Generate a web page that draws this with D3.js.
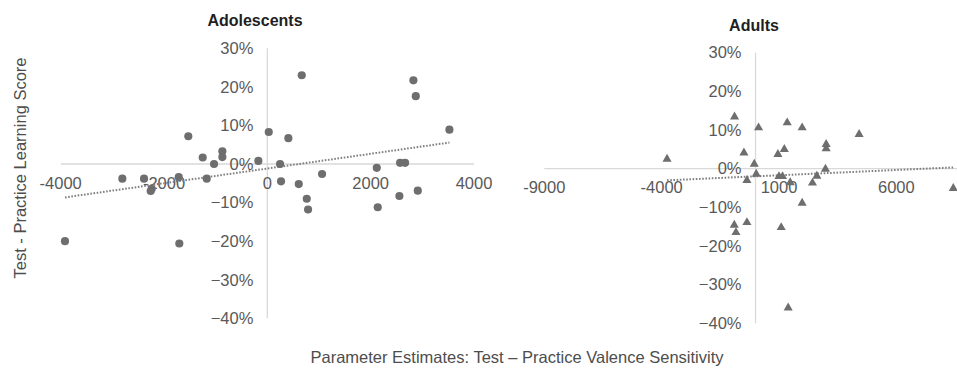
<!DOCTYPE html>
<html>
<head>
<meta charset="utf-8">
<script src="https://cdn.jsdelivr.net/npm/d3@7"></script>
<style>
  body { margin: 0; background: #fff; }
  svg { font-family: "Liberation Sans", Arial, sans-serif; display: block; }
</style>
</head>
<body>
<svg id="chart" width="957" height="369"></svg>
<script>
// Adolescents: valence sensitivity difference vs learning score difference
const adolX = [666, 2827, 2873, 3524, -1530, 27, 407, -1251, -871, -871, -1032, -174, 246, 2118, 2569, 2666,
  1059, 265, 608, 2912, -2807, -2387, -1715, -1173, -2238, -2258, 763, 788, 2137, 2556, -3917, -1704];
const adolY = [0.230, 0.217, 0.176, 0.089, 0.072, 0.083, 0.067, 0.017, 0.033, 0.018, 0.000, 0.008, 0.000, -0.010, 0.003, 0.003,
  -0.026, -0.045, -0.052, -0.069, -0.038, -0.038, -0.034, -0.038, -0.064, -0.070, -0.090, -0.118, -0.112, -0.083, -0.200, -0.206];

// Adults
const adultX = [-894, 128, 1349, 1987, 4413, -3770, -494, 953, 1226, 3009, 3009, -55, 30, 2979, 2613, -366,
  1000, 1150, 1477, 2426, 8426, 1987, -906, -366, -834, 1094, 1391];
const adultY = [0.134, 0.106, 0.119, 0.106, 0.089, 0.025, 0.041, 0.037, 0.050, 0.063, 0.052, 0.012, -0.014, -0.001, -0.019, -0.030,
  -0.020, -0.020, -0.036, -0.037, -0.051, -0.089, -0.146, -0.139, -0.165, -0.152, -0.360];

const yTicks = [0.3, 0.2, 0.1, 0, -0.1, -0.2, -0.3, -0.4];
const adolXTicks = [-4000, -2000, 0, 2000, 4000];
const adultXTicks = [-9000, -4000, 1000, 6000];

const svg = d3.select("#chart");
const axisColor = "#d9d9d9";
const labelColor = "#595959";
const markColor = "#6e6e6e";

function fit(xs, ys) {
  const mx = d3.mean(xs), my = d3.mean(ys);
  const sxy = d3.sum(xs, (v, i) => (v - mx) * (ys[i] - my));
  const sxx = d3.sum(xs, v => (v - mx) * (v - mx));
  const b = sxy / sxx;
  return { b: b, a: my - b * mx };
}

function panel(opts) {
  const x = d3.scaleLinear().domain(opts.xDomain).range(opts.xRange);
  const y = d3.scaleLinear().domain([-0.4, 0.3]).range(opts.yRange);
  const g = svg.append("g");

  // axis lines through zero
  g.append("line")
    .attr("x1", opts.xRange[0]).attr("x2", opts.xRange[1])
    .attr("y1", y(0)).attr("y2", y(0))
    .attr("stroke", axisColor).attr("stroke-width", 1.3);
  g.append("line")
    .attr("x1", x(0)).attr("x2", x(0))
    .attr("y1", y(0.3)).attr("y2", y(-0.4))
    .attr("stroke", axisColor).attr("stroke-width", 1.3);

  g.selectAll("text.ytick")
    .data(yTicks)
    .enter()
    .append("text")
    .attr("class", "ytick")
    .attr("x", x(0) - 14)
    .attr("y", d => y(d))
    .attr("dy", "0.35em")
    .attr("text-anchor", "end")
    .attr("font-size", 16.5)
    .attr("fill", labelColor)
    .text(d3.format(".0%"));

  g.selectAll("text.xtick")
    .data(opts.xTicks)
    .enter()
    .append("text")
    .attr("class", "xtick")
    .attr("x", d => x(d))
    .attr("y", y(0) + 19)
    .attr("dy", "0.35em")
    .attr("text-anchor", "middle")
    .attr("font-size", 16.5)
    .attr("fill", labelColor)
    .text(d => d);

  // linear trendline over the data range
  const t = fit(opts.xs, opts.ys);
  const ext = d3.extent(opts.xs);
  g.append("line")
    .attr("x1", x(ext[0])).attr("y1", y(t.a + t.b * ext[0]))
    .attr("x2", x(ext[1])).attr("y2", y(t.a + t.b * ext[1]))
    .attr("stroke", "#7f7f7f")
    .attr("stroke-width", 2)
    .attr("stroke-dasharray", "1.6,1.6");

  const pts = opts.xs.map((v, i) => ({ x: v, y: opts.ys[i] }));
  const sym = d3.symbol().type(opts.symbol).size(opts.size);
  g.selectAll("path.pt")
    .data(pts)
    .enter()
    .append("path")
    .attr("class", "pt")
    .attr("d", sym)
    .attr("transform", d => "translate(" + x(d.x) + "," + y(d.y) + ")")
    .attr("fill", markColor);

  g.append("text")
    .attr("x", opts.titleX)
    .attr("y", opts.titleY)
    .attr("text-anchor", "middle")
    .attr("font-size", 16)
    .attr("font-weight", "bold")
    .attr("fill", "#1f1f1f")
    .text(opts.title);
}

panel({
  title: "Adolescents", titleX: 255, titleY: 26,
  xDomain: [-4000, 4000], xRange: [60.7, 474],
  yRange: [318.3, 48.3],
  xTicks: adolXTicks, xs: adolX, ys: adolY,
  symbol: d3.symbolCircle, size: 52
});

panel({
  title: "Adults", titleX: 754, titleY: 31,
  xDomain: [-9000, 11000], xRange: [544.3, 1013.7],
  yRange: [323.3, 52.7],
  xTicks: adultXTicks, xs: adultX, ys: adultY,
  symbol: d3.symbolTriangle, size: 36
});

svg.append("text")
  .attr("transform", "translate(26,168) rotate(-90)")
  .attr("text-anchor", "middle")
  .attr("font-size", 16.5)
  .attr("fill", "#4d4d4d")
  .text("Test - Practice Learning Score");

svg.append("text")
  .attr("x", 517)
  .attr("y", 363)
  .attr("text-anchor", "middle")
  .attr("font-size", 16.5)
  .attr("fill", "#4d4d4d")
  .text("Parameter Estimates: Test \u2013 Practice Valence Sensitivity");
</script>
</body>
</html>
